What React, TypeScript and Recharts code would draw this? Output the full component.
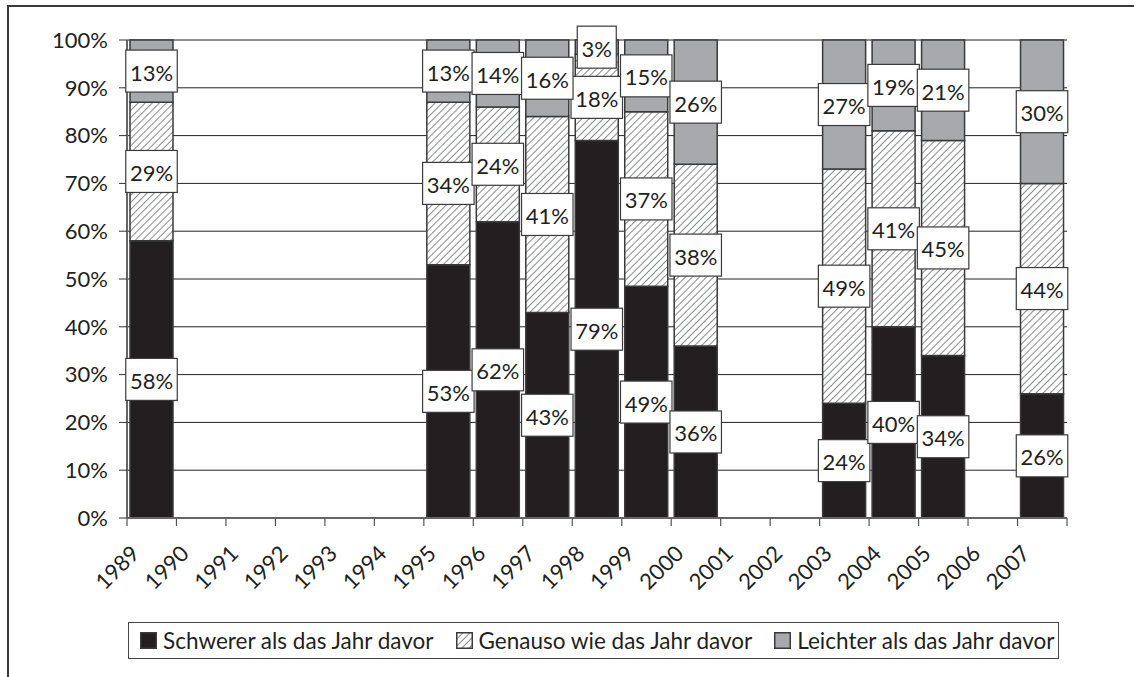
import { Bar, BarChart, CartesianGrid, LabelList, XAxis, YAxis } from 'recharts'

const YEARS = [
  '1989', '1990', '1991', '1992', '1993', '1994', '1995', '1996', '1997', '1998',
  '1999', '2000', '2001', '2002', '2003', '2004', '2005', '2006', '2007',
]

// Anteile in Prozent, null = kein Wert für das Jahr
const SCHWERER = [58, null, null, null, null, null, 53, 62, 43, 79, 48.5, 36, null, null, 24, 40, 34, null, 26]
const GENAUSO = [29, null, null, null, null, null, 34, 24, 41, 18, 36.5, 38, null, null, 49, 41, 45, null, 44]
const LEICHTER = [13, null, null, null, null, null, 13, 14, 16, 3, 15, 26, null, null, 27, 19, 21, null, 30]

const Y_TICKS = [0, 10, 20, 30, 40, 50, 60, 70, 80, 90, 100]

const SERIES_NAMES = ['Schwerer als das Jahr davor', 'Genauso wie das Jahr davor', 'Leichter als das Jahr davor']

const WIDTH = 1134
const HEIGHT = 677
const PLOT_LEFT = 127
const PLOT_RIGHT = 1067
const PLOT_TOP = 40
const PLOT_BOTTOM = 518
const BAND = (PLOT_RIGHT - PLOT_LEFT) / YEARS.length

const FONT = 'Lato, "DejaVu Sans", sans-serif'
const FONT_SIZE = 22
const INK = '#231f20'
const BLACK = '#231f20'
const GREY = '#a7a9ac'
const EDGE = '#3a3a3a'

const data = YEARS.map((year, i) => ({
  year,
  schwerer: SCHWERER[i],
  genauso: GENAUSO[i],
  leichter: LEICHTER[i],
}))

interface TickProps {
  x?: number
  y?: number
  index?: number
  payload?: { value: string }
}

function YearTick({ x = 0, index = 0, payload }: TickProps) {
  const left = x - BAND / 2
  const isLast = index === YEARS.length - 1
  const ax = x - 11
  const ay = PLOT_BOTTOM + 37
  return (
    <g>
      <line x1={left} x2={left} y1={PLOT_BOTTOM} y2={PLOT_BOTTOM + 8} stroke="#555" strokeWidth={1.2} />
      {isLast && (
        <line x1={x + BAND / 2} x2={x + BAND / 2} y1={PLOT_BOTTOM} y2={PLOT_BOTTOM + 8} stroke="#555" strokeWidth={1.2} />
      )}
      <text
        x={ax}
        y={ay}
        textAnchor="end"
        transform={`rotate(-45 ${ax} ${ay})`}
        fontFamily={FONT}
        fontSize={FONT_SIZE}
        fill={INK}
      >
        {payload?.value}
      </text>
    </g>
  )
}

interface LabelProps {
  x?: number
  y?: number
  width?: number
  height?: number
  value?: number | null
}

function BoxLabel({ x = 0, y = 0, width = 0, height = 0, value }: LabelProps) {
  if (value === null || value === undefined) {
    return null
  }
  const text = `${Math.round(value)}%`
  const w = text.length * 12.5 + 14
  const h = 42
  const cx = x + width / 2
  const cy = y + height / 2
  return (
    <g>
      <rect x={cx - w / 2} y={cy - h / 2} width={w} height={h} fill="#fff" stroke={EDGE} strokeWidth={1.2} />
      <text x={cx} y={cy + 1} textAnchor="middle" dominantBaseline="central" fontFamily={FONT} fontSize={FONT_SIZE} fill={INK}>
        {text}
      </text>
    </g>
  )
}

function Swatch({ kind }: { kind: number }) {
  const fill = kind === 0 ? BLACK : kind === 1 ? 'url(#hatch-legend)' : GREY
  return (
    <svg width={17} height={17} style={{ display: 'block' }}>
      <defs>
        <pattern id="hatch-legend" patternUnits="userSpaceOnUse" width={5} height={5} patternTransform="rotate(45)">
          <rect width={5} height={5} fill="#fff" />
          <line x1={0} y1={0} x2={0} y2={5} stroke="#8a8c8e" strokeWidth={2} />
        </pattern>
      </defs>
      <rect x={0.75} y={0.75} width={15.5} height={15.5} fill={fill} stroke={EDGE} strokeWidth={1.5} />
    </svg>
  )
}

function App() {
  return (
    <div
      style={{
        position: 'absolute',
        left: 0,
        top: 0,
        width: WIDTH,
        height: HEIGHT,
        overflow: 'hidden',
        background: '#fff',
      }}
    >
      <div
        style={{
          position: 'absolute',
          left: 7,
          top: 5,
          width: WIDTH,
          height: HEIGHT,
          borderTop: '2px solid #3a3a3a',
          borderLeft: '2px solid #3a3a3a',
        }}
      />
      <div style={{ position: 'absolute', left: 0, top: 0 }}>
        <BarChart
          width={WIDTH}
          height={HEIGHT}
          data={data}
          margin={{ top: PLOT_TOP, right: WIDTH - PLOT_RIGHT, left: 0, bottom: HEIGHT - PLOT_BOTTOM - 100 }}
          barCategoryGap={3}
        >
          <defs>
            <pattern id="hatch" patternUnits="userSpaceOnUse" width={5} height={5} patternTransform="rotate(45)">
              <rect width={5} height={5} fill="#fff" />
              <line x1={0} y1={0} x2={0} y2={5} stroke="#8a8c8e" strokeWidth={2} />
            </pattern>
          </defs>
          <CartesianGrid vertical={false} stroke="#222" strokeWidth={1} />
          <XAxis
            dataKey="year"
            interval={0}
            height={100}
            tickLine={false}
            tickSize={0}
            tickMargin={0}
            axisLine={{ stroke: '#666', strokeWidth: 2 }}
            tick={<YearTick />}
          />
          <YAxis
            width={PLOT_LEFT}
            domain={[0, 100]}
            ticks={Y_TICKS}
            tickFormatter={(v: number) => `${v}%`}
            axisLine={{ stroke: '#666', strokeWidth: 2 }}
            tickLine={{ stroke: '#333', strokeWidth: 1 }}
            tickSize={8}
            tickMargin={11}
            tick={{ fontFamily: FONT, fontSize: FONT_SIZE, fill: INK }}
          />
          <Bar dataKey="schwerer" stackId="a" fill={BLACK} stroke={EDGE} strokeWidth={1.5} isAnimationActive={false}>
            <LabelList dataKey="schwerer" content={<BoxLabel />} />
          </Bar>
          <Bar dataKey="genauso" stackId="a" fill="url(#hatch)" stroke={EDGE} strokeWidth={1.5} isAnimationActive={false}>
            <LabelList dataKey="genauso" content={<BoxLabel />} />
          </Bar>
          <Bar dataKey="leichter" stackId="a" fill={GREY} stroke={EDGE} strokeWidth={1.5} isAnimationActive={false}>
            <LabelList dataKey="leichter" content={<BoxLabel />} />
          </Bar>
        </BarChart>
      </div>
      <div
        style={{
          position: 'absolute',
          left: 128,
          top: 622,
          width: 931,
          height: 37,
          boxSizing: 'border-box',
          border: '1.5px solid #444',
          display: 'flex',
          alignItems: 'center',
          paddingLeft: 11,
          fontFamily: FONT,
          fontSize: 22.5,
          color: INK,
          whiteSpace: 'nowrap',
        }}
      >
        {SERIES_NAMES.map((name, i) => (
          <div key={name} style={{ display: 'flex', alignItems: 'center', marginRight: 22 }}>
            <Swatch kind={i} />
            <span style={{ marginLeft: 6 }}>{name}</span>
          </div>
        ))}
      </div>
    </div>
  )
}

export default App
